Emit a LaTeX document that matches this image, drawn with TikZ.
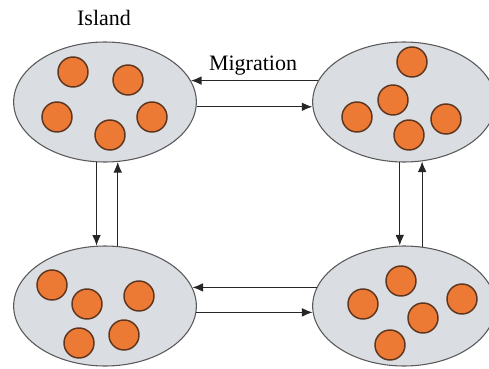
\documentclass[tikz,border=0pt]{standalone}
\usepackage{fontspec}
\setmainfont{Liberation Serif}
\usetikzlibrary{arrows.meta,shapes.geometric}
\definecolor{islandfill}{HTML}{DADDE2}
\definecolor{indfill}{HTML}{EC7A35}
\definecolor{inddraw}{HTML}{5E3620}

\begin{document}
\begin{tikzpicture}[>={Latex[length=8pt,width=6.5pt]},x=0.75pt,y=-0.75pt,
  island/.style={ellipse,draw=black!65,fill=islandfill,line width=0.8pt,minimum width=137pt,minimum height=90pt,inner sep=0pt},
  ind/.style={circle,draw=inddraw,fill=indfill,line width=1.1pt,minimum size=22.5pt,inner sep=0pt},
  flow/.style={->,black!85,line width=0.9pt},
  font=\fontsize{16.5}{19}\selectfont]
\useasboundingbox (0,0) rectangle (489,368);
% islands
\node[island] (tl) at (105,102) {};
\node[island] (tr) at (404,102) {};
\node[island] (bl) at (105,306) {};
\node[island] (br) at (404,306) {};
% individuals
\foreach \x/\y [count=\i] in {73/72,128/80,57/117,152/117,110/135}
  \node[ind] (tl\i) at (\x,\y) {};
\foreach \x/\y [count=\i] in {412/62,393/100,357/117,446/119,409/135}
  \node[ind] (tr\i) at (\x,\y) {};
\foreach \x/\y [count=\i] in {52/285,87/304,139/296,79/343,124/335}
  \node[ind] (bl\i) at (\x,\y) {};
\foreach \x/\y [count=\i] in {401/281,363/304,462/299,423/318,390/345}
  \node[ind] (br\i) at (\x,\y) {};
\node (island) at (104,18) {Island};
\node (migr) at (253,66) {Migration};
% migration between islands
\draw[flow] (tr.166) -- (tl.14);
\draw[flow] (tl.-3.5) -- (tr.183.5);
\draw[flow] (br.168) -- (bl.12);
\draw[flow] (bl.-4.4) -- (br.184.4);
\draw[flow] (tl.-98.6) -- (bl.98.6);
\draw[flow] (bl.78.6) -- (tl.-78.6);
\draw[flow] (tr.-94.8) -- (br.94.8);
\draw[flow] (br.73.5) -- (tr.-73.5);
\end{tikzpicture}
\end{document}
